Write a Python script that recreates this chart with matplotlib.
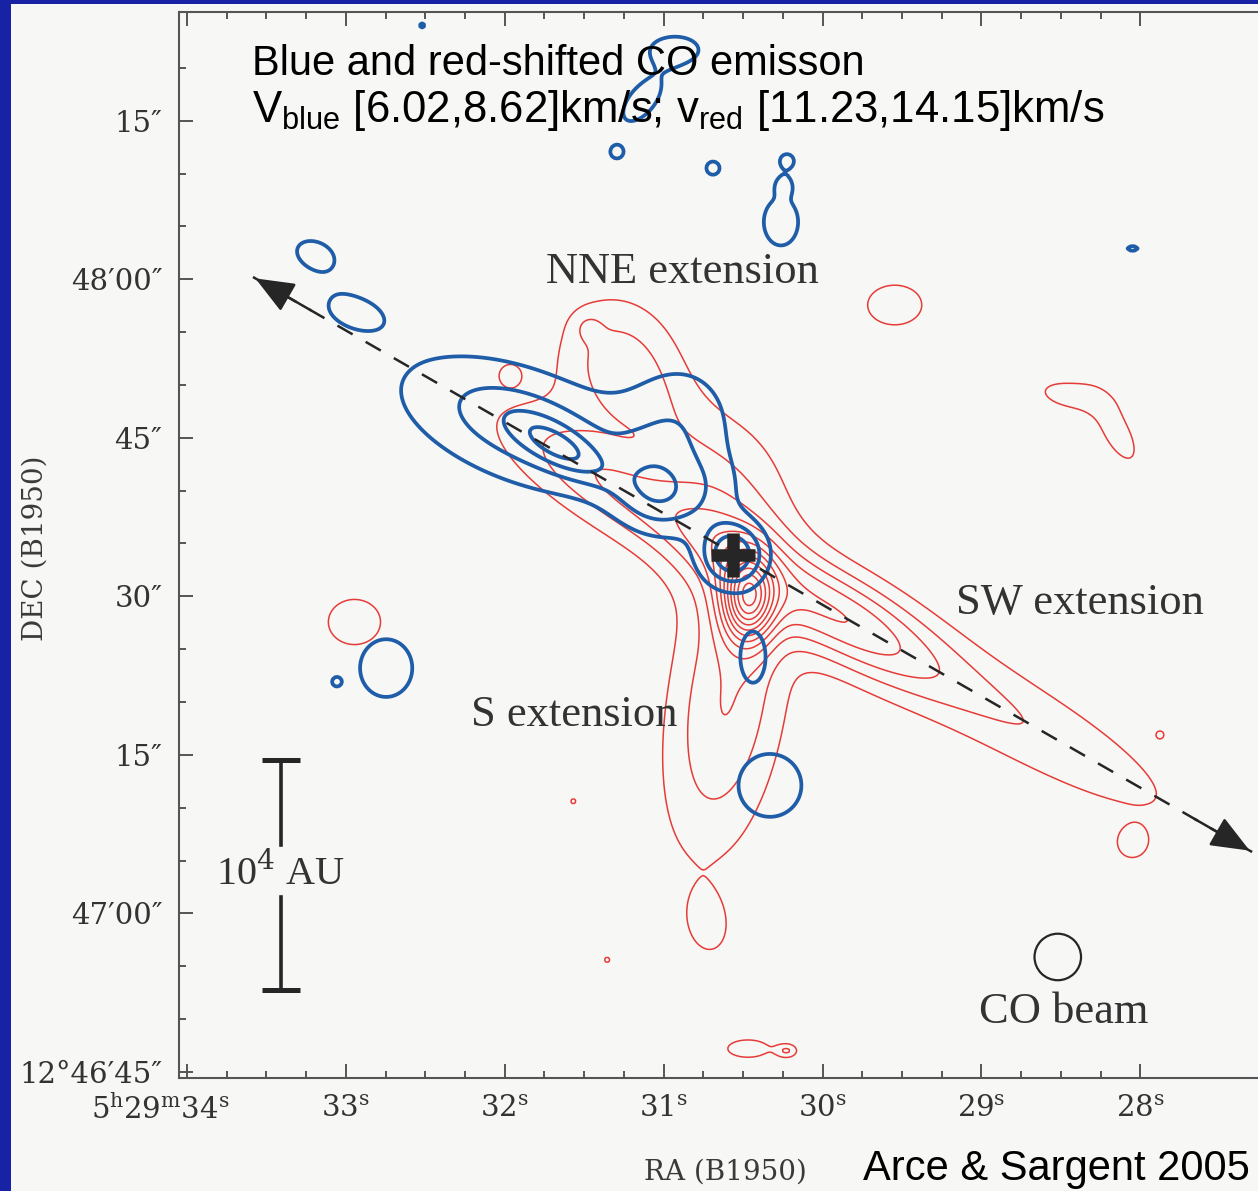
import numpy as np
import matplotlib.pyplot as plt
from matplotlib.patches import Ellipse, Rectangle
from matplotlib.transforms import ScaledTranslation

plt.rcParams["mathtext.fontset"] = "custom"
plt.rcParams["mathtext.rm"] = "DejaVu Serif"
plt.rcParams["mathtext.sf"] = "Liberation Sans"

# -----------------------------
# Source position (B1950): RA seconds of 5h29m, Dec arcsec above 12d46m45s
# -----------------------------
SRC_RA = 30.564
SRC_DEC = 48.91
AS_PER_SEC = 15.03

# -----------------------------
# Red-shifted lobe: gaussian components
# offsets from source (east, north, arcsec), sigmas (arcsec), PA (deg), peak (contour units)
# -----------------------------
RED_EAST = [-1.42, 0.6, -9.84, -26.2, 9.84, 11.16, 13.7, 0.76, 6.4, -15.3, -31.9, -36.3,
            35.8, -37.7, 2.37, -1.42, -5.1, 21.1, 15.1, 11.9, -40.4]
RED_NORTH = [-4.26, -14.0, -5.68, -15.1, 5.68, 17.97, 21.5, 4.73, 12.8, 23.65, 15.1, 11.6,
             -6.34, -27.4, -35.0, -46.7, -46.9, 17.1, -23.3, -38.3, -17.0]
RED_SMAJ = [2.84, 10.2, 7.57, 14.0, 9.46, 4.73, 0.95, 6.6, 6.6, 2.84, 2.65, 3.03,
            2.74, 1.3, 2.4, 1.75, 0.75, 0.85, 0.4, 0.4, 0.4]
RED_SMIN = [1.70, 3.8, 2.84, 3.0, 2.84, 4.26, 0.95, 4.3, 2.84, 2.08, 1.14, 1.23,
            2.37, 1.3, 1.6, 0.75, 0.5, 0.85, 0.4, 0.4, 0.4]
RED_PA = [0, -9, 60, 60, 60, 0, 0, 0, 36, 90, 80, 29,
          90, 0, 10, 90, 90, 0, 0, 0, 0]
RED_PEAK = [8.0, 3.0, 4.0, 1.9, 3.0, 2.0, 0.9, 1.5, 1.2, 1.5, 1.5, 1.5,
            1.5, 1.35, 1.3, 1.8, 2.0, 1.3, 1.2, 1.2, 1.2]
RED_LEVELS = list(range(1, 14))

# -----------------------------
# Blue-shifted lobe
# -----------------------------
BLUE_EAST = [19.68, 16.4, 7.09, 5.01, 0.0, 1.7, -1.89, -3.5, 32.8, 37.5, 39.5, 35.8,
             5.49, 8.61, 10.97, 1.89, -5.11, -4.54, -4.82, -37.8, 29.4]
BLUE_NORTH = [12.2, 10.2, 5.68, 12.77, 0.0, 6.15, -9.65, -21.8, -10.7, -12.0, 28.4, 23.0,
              47.8, 43.0, 38.1, 36.6, 37.3, 31.5, 35.0, 29.0, 50.1]
BLUE_SMAJ = [8.9, 3.4, 3.0, 3.9, 2.17, 2.5, 2.65, 3.3, 3.03, 0.4, 2.65, 2.93,
             2.4, 2.6, 0.66, 0.76, 0.75, 2.46, 0.7, 0.66, 0.35]
BLUE_SMIN = [3.9, 1.32, 2.6, 4.26, 2.17, 2.5, 1.32, 3.3, 2.74, 0.4, 1.8, 1.6,
             1.32, 1.32, 0.66, 0.76, 0.75, 1.8, 0.6, 0.3, 0.35]
BLUE_PA = [70, 60, 60, 90, 0, 0, 0, 0, 0, 0, 68, 75,
           90, -40, 0, 0, 0, 0, 0, 90, 0]
BLUE_PEAK = [2.6, 2.2, 2.1, 1.6, 3.8, 0.7, 1.5, 1.5, 1.5, 1.3, 1.25, 1.25,
             1.5, 1.5, 1.4, 1.4, 1.35, 1.5, 1.3, 1.3, 1.2]
BLUE_LEVELS = [1, 2, 3, 4]

# outflow axis ends (east, north offsets), scale bar, beam
AXIS_EAST = [45.4, -49.1]
AXIS_NORTH = [26.3, -28.1]
BAR_RA = 33.41
BAR_DEC = [7.76, 29.5]        # 10^4 AU at 460 pc
BEAM_RA, BEAM_DEC, BEAM_SIZE = 28.52, 10.88, 4.4

RA_TICKS = [34, 33, 32, 31, 30, 29, 28]
RA_LABELS = [r"5$^{\rm h}$29$^{\rm m}$34$^{\rm s}$"] + [f"{t}$^{{\\rm s}}$" for t in RA_TICKS[1:]]
DEC_TICKS = [0, 15, 30, 45, 60, 75, 90]
DEC_LABELS = ["12°46′45″", "47′00″", "15″", "30″", "45″", "48′00″", "15″"]

RED = "#E63C38"
BLUE = "#1F5DA8"
INK = "#262626"


def lobe(E, N, east, north, smaj, smin, pa, peak):
    img = np.zeros_like(E)
    for e0, n0, sa, sb, p, a in zip(east, north, smaj, smin, pa, peak):
        t = np.radians(p)
        de = E - e0
        dn = N - n0
        u = de * np.sin(t) + dn * np.cos(t)
        v = de * np.cos(t) - dn * np.sin(t)
        img += a * np.exp(-0.5 * (u / sa) ** 2 - 0.5 * (v / sb) ** 2)
    return img


E, N = np.meshgrid(np.linspace(-52, 54, 531), np.linspace(-51, 53, 521))
RA = SRC_RA + E / AS_PER_SEC
DEC = SRC_DEC + N
red = lobe(E, N, RED_EAST, RED_NORTH, RED_SMAJ, RED_SMIN, RED_PA, RED_PEAK)
blue = lobe(E, N, BLUE_EAST, BLUE_NORTH, BLUE_SMAJ, BLUE_SMIN, BLUE_PA, BLUE_PEAK)

# -----------------------------
# Figure
# -----------------------------
W, H = 1258, 1191
fig = plt.figure(figsize=(W / 100, H / 100), dpi=100, facecolor="#1722A5")
fig.add_artist(Rectangle((11 / W, 0), 1, 1 - 4 / H, transform=fig.transFigure,
                         facecolor="#F7F8F6", edgecolor="none", zorder=0))

ax = fig.add_axes([179 / W, 113 / H, 1079 / W, 1066 / H])
ax.set_facecolor("none")

ax.contour(RA, DEC, red, levels=RED_LEVELS, colors=RED, linewidths=1.1, zorder=2)
ax.contour(RA, DEC, blue, levels=BLUE_LEVELS, colors=BLUE, linewidths=2.7, zorder=3)

# outflow axis
ra_ax = [SRC_RA + e / AS_PER_SEC for e in AXIS_EAST]
dec_ax = [SRC_DEC + n for n in AXIS_NORTH]
ax.plot(ra_ax, dec_ax, ls=(0, (7, 6)), color=INK, lw=1.8, zorder=5)
for i in range(2):
    j = 1 - i
    back = (ra_ax[i] + 0.06 * (ra_ax[j] - ra_ax[i]), dec_ax[i] + 0.06 * (dec_ax[j] - dec_ax[i]))
    ax.annotate("", xy=(ra_ax[i], dec_ax[i]), xytext=back,
                arrowprops=dict(arrowstyle="-|>,head_length=1.1,head_width=0.45",
                                mutation_scale=22, color=INK, lw=1.8), zorder=6)

ax.plot(SRC_RA, SRC_DEC, marker="+", ms=31, mew=9, color=INK, zorder=7)

# scale bar
ax.plot([BAR_RA, BAR_RA], [BAR_DEC[1], 21.5], color=INK, lw=2.6)
ax.plot([BAR_RA, BAR_RA], [16.6, BAR_DEC[0]], color=INK, lw=2.6)
for d in BAR_DEC:
    ax.plot([BAR_RA + 0.12, BAR_RA - 0.12], [d, d], color=INK, lw=3.6, solid_capstyle="butt")
ax.text(BAR_RA, 18.8, "10$^4$ AU", fontsize=29, family="Liberation Serif",
        color="#333333", ha="center", va="center")

ax.add_patch(Ellipse((BEAM_RA, BEAM_DEC), BEAM_SIZE / AS_PER_SEC, BEAM_SIZE,
                     facecolor="none", edgecolor=INK, lw=1.6))

serif = dict(fontsize=32, family="Liberation Serif", color="#333333", ha="center", va="center")
ax.text(30.885, 75.7, "NNE extension", **serif)
ax.text(28.38, 44.4, "SW extension", **serif)
ax.text(31.56, 33.8, "S extension", **serif)
ax.text(28.48, 5.7, "CO beam", **serif)

ax.set_xlim(34.05, 27.26)
ax.set_ylim(-0.57, 100.28)
ax.set_xticks(RA_TICKS)
ax.set_xticklabels(RA_LABELS)
ax.set_xticks(np.arange(28, 34.01, 0.25), minor=True)
ax.set_yticks(DEC_TICKS)
ax.set_yticklabels(DEC_LABELS)
ax.set_yticks(np.arange(0, 100, 5), minor=True)
ax.tick_params(which="both", direction="in", top=True, right=False, color="#555555",
               width=1.4, labelsize=21, labelcolor="#333333")
ax.tick_params(which="major", length=10, pad=12)
ax.tick_params(which="minor", length=5)
for lab in ax.get_xticklabels() + ax.get_yticklabels():
    lab.set_family("DejaVu Serif")
first = ax.get_xticklabels()[0]
first.set_transform(first.get_transform() + ScaledTranslation(-0.27, 0, fig.dpi_scale_trans))
for side in ["left", "bottom", "top"]:
    ax.spines[side].set_color("#555555")
    ax.spines[side].set_linewidth(1.5)
ax.spines["right"].set_visible(False)

fig.text(725 / W, 1 - 1172 / H, "RA (B1950)", fontsize=20, family="DejaVu Serif",
         color="#3a3a3a", ha="center", va="center")
fig.text(35 / W, 1 - 548 / H, "DEC (B1950)", fontsize=20, family="DejaVu Serif",
         color="#3a3a3a", ha="center", va="center", rotation=90)

sans = dict(family="Liberation Sans", color="black", va="baseline")
fig.text(252 / W, 1 - 75 / H, "Blue and red-shifted CO emisson", fontsize=30, **sans)
fig.text(252 / W, 1 - 122 / H,
         r"V$_{\mathsf{blue}}$ [6.02,8.62]km/s; v$_{\mathsf{red}}$ [11.23,14.15]km/s",
         fontsize=31.5, **sans)
fig.text(1250 / W, 1 - 1180 / H, "Arce & Sargent 2005", ha="right", fontsize=30, **sans)

fig.savefig("out.png", dpi=100, facecolor=fig.get_facecolor())
